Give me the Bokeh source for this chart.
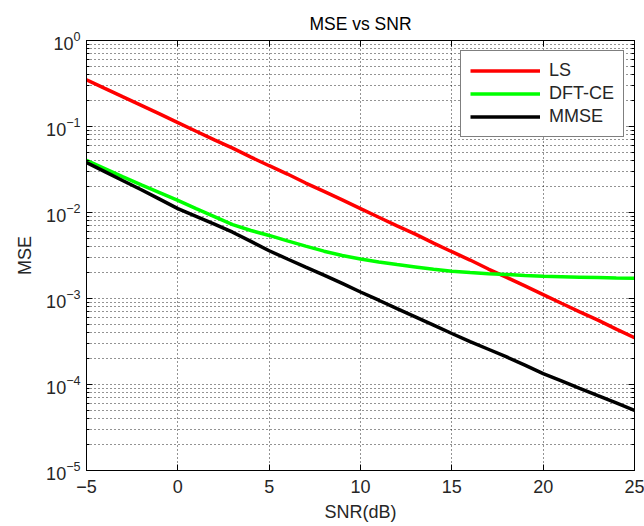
from bokeh.plotting import figure
from bokeh.models import (Range1d, FixedTicker, LogAxis, LinearAxis, Legend, LegendItem,
                          CustomJSTickFormatter)
from bokeh.embed import file_html
from bokeh.resources import INLINE

snr = list(range(-5, 26))

mse_ls = [0.35, 0.278, 0.221, 0.176, 0.14, 0.111, 0.088, 0.070, 0.056, 0.044, 0.035,
          0.028, 0.022, 0.0176, 0.014, 0.0111, 0.0088, 0.0070, 0.0056, 0.0044, 0.0035,
          0.0028, 0.0022, 0.00176, 0.0014, 0.00111, 0.00088, 0.0007, 0.00056, 0.00044, 0.00035]

mse_dft = [0.0403, 0.0324, 0.0260, 0.0209, 0.0170, 0.0138, 0.0111, 0.00897, 0.00724, 0.00617,
           0.00541, 0.00468, 0.00407, 0.00355, 0.00316, 0.00288, 0.00266, 0.00248, 0.00233,
           0.00219, 0.00207, 0.00200, 0.00194, 0.00190, 0.00185, 0.00181, 0.00179, 0.00177,
           0.00175, 0.00173, 0.00172]

mse_mmse = [0.0381, 0.0299, 0.0234, 0.0184, 0.0143, 0.0111, 0.00902, 0.00733, 0.00590, 0.00462,
            0.00359, 0.00288, 0.00232, 0.00187, 0.00150, 0.00119, 0.000955, 0.000764, 0.000612,
            0.000490, 0.000392, 0.000316, 0.000257, 0.000209, 0.000168, 0.000134, 0.000110,
            0.0000902, 0.0000741, 0.0000610, 0.0000501]

x_ticks = [-5, 0, 5, 10, 15, 20, 25]
y_decades = [-5, -4, -3, -2, -1, 0]

FONT = "Liberation Sans"
TXT = "#262626"

y_major = [10.0 ** k for k in y_decades]
y_minor = [m * 10.0 ** k for k in y_decades[:-1] for m in range(2, 10)]

p = figure(width=644, height=526, y_axis_type="log", output_backend="svg",
           toolbar_location=None, x_range=Range1d(-5, 25), y_range=Range1d(1e-5, 1),
           min_border_left=86, min_border_right=10, min_border_top=40, min_border_bottom=56,
           title="MSE vs SNR")
p.outline_line_color = "black"
p.outline_line_width = 1
p.background_fill_color = "white"
p.border_fill_color = "white"

p.title.align = "center"
p.title.text_font = FONT
p.title.text_font_size = "17.5px"
p.title.text_font_style = "normal"
p.title.text_color = "black"
p.title.standoff = 14

xt = FixedTicker(ticks=x_ticks, minor_ticks=[])
yt = FixedTicker(ticks=y_major, minor_ticks=y_minor)

xa = p.xaxis[0]
xa.ticker = xt
xa.axis_label = "SNR(dB)"
ya = p.yaxis[0]
ya.ticker = yt
ya.axis_label = "MSE"

for ax in (xa, ya):
    ax.axis_label_text_font = FONT
    ax.axis_label_text_font_size = "18px"
    ax.axis_label_text_font_style = "normal"
    ax.axis_label_text_color = TXT
    ax.major_label_text_font = FONT
    ax.major_label_text_font_size = "18px"
    ax.major_label_text_color = TXT
    ax.major_tick_in = 6
    ax.major_tick_out = 0
    ax.minor_tick_in = 3
    ax.minor_tick_out = 0
    ax.axis_line_color = "black"
    ax.major_tick_line_color = "black"
    ax.minor_tick_line_color = "black"

xa.major_label_standoff = 9
xa.axis_label_standoff = 6
ya.major_label_standoff = 6
ya.axis_label_standoff = 8

blank = CustomJSTickFormatter(code="return ''")
top = LinearAxis(ticker=FixedTicker(ticks=x_ticks, minor_ticks=[]), formatter=blank,
                 major_tick_in=6, major_tick_out=0, minor_tick_in=0, minor_tick_out=0,
                 major_label_text_font_size="1px", major_label_standoff=0)
right = LogAxis(ticker=FixedTicker(ticks=y_major, minor_ticks=y_minor), formatter=blank,
                major_tick_in=6, major_tick_out=0, minor_tick_in=3, minor_tick_out=0,
                major_label_text_font_size="1px", major_label_standoff=0)
p.add_layout(top, "above")
p.add_layout(right, "right")

for g in p.grid:
    g.grid_line_color = "black"
    g.grid_line_dash = "1 3"
    g.grid_line_width = 1
    g.grid_line_alpha = 0.85
p.xgrid.ticker = xt
p.ygrid.ticker = yt
p.ygrid.minor_grid_line_color = "black"
p.ygrid.minor_grid_line_dash = "1 3"
p.ygrid.minor_grid_line_alpha = 0.85

r_ls = p.line(snr, mse_ls, line_color="#ff0000", line_width=3.5)
r_dft = p.line(snr, mse_dft, line_color="#00ff00", line_width=3.5)
r_mm = p.line(snr, mse_mmse, line_color="black", line_width=3.5)

legend = Legend(items=[LegendItem(label="LS", renderers=[r_ls]),
                       LegendItem(label="DFT-CE", renderers=[r_dft]),
                       LegendItem(label="MMSE", renderers=[r_mm])],
                location="top_right")
legend.margin = 10
legend.padding = 9
legend.spacing = 2
legend.glyph_width = 70
legend.glyph_height = 21
legend.label_height = 21
legend.label_standoff = 9
legend.label_text_font = FONT
legend.label_text_font_size = "18px"
legend.label_text_color = TXT
legend.border_line_color = "black"
legend.border_line_width = 1
legend.background_fill_color = "white"
legend.background_fill_alpha = 1
p.add_layout(legend, "center")

open("out.html", "w").write(file_html(p, INLINE))
